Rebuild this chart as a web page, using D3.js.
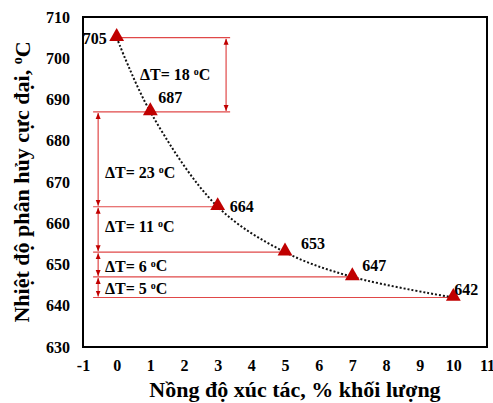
<!DOCTYPE html>
<html><head><meta charset="utf-8">
<script src="https://cdn.jsdelivr.net/npm/d3@7"></script>
<style>body{margin:0;background:#fff}svg{display:block}</style>
</head><body>
<svg id="c" width="493" height="403" font-family="Liberation Serif" font-weight="bold"></svg>
<script>
const concentrations = [0, 1, 3, 5, 7, 10];
const temperatures = [705, 687, 664, 653, 647, 642];
const deltaLabels = ["ΔT= 18 ", "ΔT= 23 ", "ΔT= 11 ", "ΔT= 6 ", "ΔT= 5 "];
const xTicks = [-1, 0, 1, 2, 3, 4, 5, 6, 7, 8, 9, 10, 11];
const yTicks = [630, 640, 650, 660, 670, 680, 690, 700, 710];
const xTitle = "Nồng độ xúc tác, % khối lượng";
const yTitle = "Nhiệt độ phân hủy cực đại, ";

const FONT = "Liberation Serif";
const svg = d3.select("#c");
const L = 83, R = 487, T = 17, B = 347;
const x = d3.scaleLinear().domain([-1, 11]).range([L, R]);
const y = d3.scaleLinear().domain([630, 710]).range([B, T]);

const red = "#e04848", dark = "#c00000";
const defs = svg.append("defs");
["s","e"].forEach(k => {
  defs.append("marker").attr("id","m"+k).attr("viewBox","0 0 6 6").attr("refX", 6).attr("refY",3)
    .attr("markerWidth",5).attr("markerHeight",5).attr("orient", k==="e"?"auto":"auto-start-reverse")
    .append("path").attr("d","M0,0.5L6,3L0,5.5Z").attr("fill",dark);
});

// frame
svg.append("rect").attr("x",L).attr("y",T).attr("width",R-L).attr("height",B-T)
  .attr("fill","none").attr("stroke","#000").attr("stroke-width",2);

// axes (labels only)
const xa = svg.append("g").attr("transform",`translate(0,${B})`)
  .call(d3.axisBottom(x).tickValues(xTicks).tickFormat(d=>String(d)).tickSize(0).tickPadding(13));
const ya = svg.append("g").attr("transform",`translate(${L},0)`)
  .call(d3.axisLeft(y).tickValues(yTicks).tickFormat(d=>String(d)).tickSize(0).tickPadding(13));
[xa, ya].forEach(a => { a.attr("font-family",FONT).attr("font-size",16).attr("font-weight","bold"); a.select(".domain").remove(); a.selectAll("text").attr("fill","#000"); });

// horizontal reference lines
const xBr = 3.25, xLeft = -0.7, xBrL = -0.55;
const hl = svg.append("g").attr("stroke",red).attr("stroke-width",1.2);
temperatures.forEach((t,i) => {
  let x1 = i===0 ? concentrations[0] : xLeft;
  let x2 = i<=1 ? xBr + 0.12 : concentrations[i];
  hl.append("line").attr("x1",x(x1)).attr("x2",x(x2)).attr("y1",y(t)).attr("y2",y(t));
});
// brackets
const labOff = [[140,0],[105,13],[105,-3],[105,1.5],[105,1]];
for (let i=0;i<temperatures.length-1;i++){
  const bx = i===0 ? x(xBr) : x(xBrL);
  hl.append("line").attr("x1",bx).attr("x2",bx).attr("y1",y(temperatures[i])+1).attr("y2",y(temperatures[i+1])-1)
    .attr("marker-start","url(#ms)").attr("marker-end","url(#me)");
  const my = (y(temperatures[i])+y(temperatures[i+1]))/2 + labOff[i][1];
  const t = svg.append("text").attr("x",labOff[i][0]).attr("y",my).attr("dy","0.35em").attr("font-size",16);
  t.append("tspan").text(deltaLabels[i]);
  t.append("tspan").attr("font-size",10).attr("dy","-0.5em").text("o");
  t.append("tspan").attr("font-size",16).attr("dy","0.3em").text("C");
}

// curve
svg.append("path").datum(concentrations.map((c,i)=>[c,temperatures[i]]))
  .attr("fill","none").attr("stroke","#111").attr("stroke-width",2).attr("stroke-dasharray","2,2")
  .attr("d", d3.line().x(d=>x(d[0])).y(d=>y(d[1])).curve(d3.curveCatmullRom.alpha(0.5)));

// markers
svg.append("g").selectAll("path").data(temperatures).join("path")
  .attr("transform",(d,i)=>`translate(${x(concentrations[i])},${y(d)-1})`)
  .attr("d", d3.symbol(d3.symbolTriangle, 95)).attr("fill",dark);

// data labels
const off = [[-10,6,"end"],[8,-9,"start"],[12,5,"start"],[16,-3,"start"],[10,-6,"start"],[1,-3,"start"]];
svg.append("g").selectAll("text").data(temperatures).join("text")
  .attr("x",(d,i)=>x(concentrations[i])+off[i][0]).attr("y",(d,i)=>y(d)+off[i][1])
  .attr("text-anchor",(d,i)=>off[i][2]).attr("font-size",16).text(d=>d);

// titles
svg.append("text").attr("x",295).attr("y",397).attr("text-anchor","middle").attr("font-size",22).text(xTitle);
const yt = svg.append("text").attr("transform","translate(29,182) rotate(-90)").attr("text-anchor","middle").attr("font-size",22);
yt.append("tspan").text(yTitle);
yt.append("tspan").attr("font-size",14).attr("dy","-0.5em").text("o");
yt.append("tspan").attr("font-size",22).attr("dy","0.35em").text("C");
</script>
</body></html>
